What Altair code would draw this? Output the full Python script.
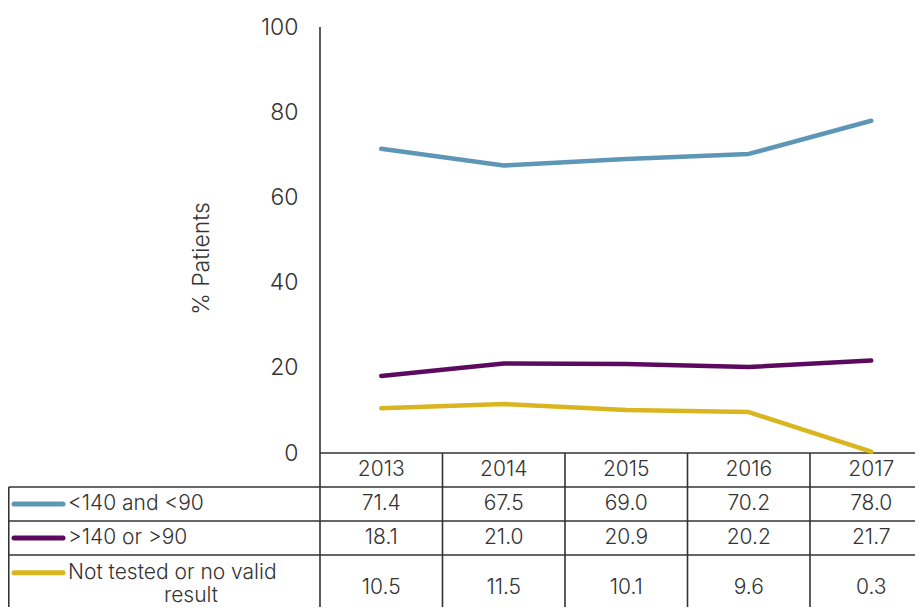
import altair as alt
import pandas as pd

# ---------------- data ----------------
years = [2013, 2014, 2015, 2016, 2017]
series = ["<140 and <90", ">140 or >90", "Not tested or no valid result"]
normal_bp = [71.4, 67.5, 69.0, 70.2, 78.0]
high_bp = [18.1, 21.0, 20.9, 20.2, 21.7]
not_tested = [10.5, 11.5, 10.1, 9.6, 0.3]
colors = ["#5E97B5", "#5C0A5F", "#D9B520"]
y_ticks = [0, 20, 40, 60, 80, 100]
y_title = "% Patients"

# ---------------- layout helpers ----------------
FONT = "Inter"
TXT = "#333333"
BORDER = "#333333"
COL_W = 122.5            # px per year column
AXIS_PX = 320            # page x of first column boundary
SVG_W, SVG_H = 907, 599
PAD_L = AXIS_PX - 8
PLOT_W = SVG_W - PAD_L
ZERO_Y = 445             # svg y of value 0
PX_UNIT = 4.26
ROW_H = 34
TAB_FS = 21


def px_year(px):
    return years[0] - 0.5 + (px - AXIS_PX) / COL_W


X_SCALE = alt.Scale(domain=[years[0] - 0.5, years[0] - 0.5 + PLOT_W / COL_W], nice=False, zero=False)
Y_DATA = alt.Scale(domain=[(ZERO_Y - SVG_H) / PX_UNIT, ZERO_Y / PX_UNIT], nice=False, zero=False)
Y_TAB = alt.Scale(domain=[-ZERO_Y / ROW_H, (SVG_H - ZERO_Y) / ROW_H], nice=False, zero=False, reverse=True)

vals = [normal_bp, high_bp, not_tested]
row_center = [1.5, 2.5, 3.98]
key_row = [1.5, 2.5, 3.52]

recs = []
for s, v, rc in zip(series, vals, row_center):
    for yr, val in zip(years, v):
        recs.append({"year": yr, "series": s, "value": val, "r": rc, "label": f"{val:.1f}"})
df = pd.DataFrame(recs)

hdr = pd.DataFrame({"year": years, "r": [0.5] * len(years), "label": [str(y) for y in years]})

keys = pd.DataFrame({"series": series, "x": [px_year(14)] * 3, "x2": [px_year(63)] * 3, "r": key_row})

lab_left = pd.DataFrame({"t": ["<140 and <90", ">140 or >90", "Not tested or no valid"],
                         "x": [px_year(68)] * 3, "r": key_row})
lab_center = pd.DataFrame({"t": ["result"], "x": [px_year(191)], "r": [4.2]})

right = years[-1] + 0.5
left = px_year(8.75)
bottom_r = (SVG_H - ZERO_Y) / ROW_H
hlines = pd.DataFrame({"x": [years[0] - 0.5, left, left, left],
                       "x2": [right] * 4, "r": [0, 1, 2, 3]})
vbounds = [y - 0.5 for y in years]
vlines = pd.DataFrame({"x": [left] + vbounds,
                       "r": [1] + [0] * len(vbounds),
                       "r2": [bottom_r] * (len(vbounds) + 1)})
axis_line = pd.DataFrame({"x": [years[0] - 0.5], "y": [0], "y2": [100]})

color_scale = alt.Scale(domain=series, range=colors)

# ---------------- layers ----------------
frame_h = alt.Chart(hlines).mark_rule(color=BORDER, strokeWidth=1.6).encode(
    x=alt.X("x:Q", scale=X_SCALE, axis=None), x2="x2:Q",
    y=alt.Y("r:Q", scale=Y_TAB, axis=None))
frame_v = alt.Chart(vlines).mark_rule(color=BORDER, strokeWidth=1.6).encode(
    x=alt.X("x:Q", scale=X_SCALE, axis=None),
    y=alt.Y("r:Q", scale=Y_TAB, axis=None), y2="r2:Q")
axis_rule = alt.Chart(axis_line).mark_rule(color=BORDER, strokeWidth=1.6).encode(
    x=alt.X("x:Q", scale=X_SCALE, axis=None),
    y=alt.Y("y:Q", scale=Y_DATA, axis=None), y2="y2:Q")

lines = alt.Chart(df).mark_line(strokeWidth=4.5, strokeCap="round", strokeJoin="round").encode(
    x=alt.X("year:Q", scale=X_SCALE, axis=None),
    y=alt.Y("value:Q", scale=Y_DATA,
            axis=alt.Axis(values=y_ticks, domain=False, ticks=False, grid=False,
                          labelPadding=22, labelFontSize=23, labelFont=FONT, labelColor=TXT,
                          labelFontWeight=300,
                          title=y_title, titleFont=FONT, titleFontSize=23, titleFontWeight=300,
                          titleColor=TXT, titleX=-107, titleY=250)),
    color=alt.Color("series:N", scale=color_scale, legend=None),
    detail="series:N")

text_kw = dict(font=FONT, fontSize=TAB_FS, fontWeight=300, color=TXT, baseline="middle")

cells = alt.Chart(df).mark_text(align="center", **text_kw).encode(
    x=alt.X("year:Q", scale=X_SCALE, axis=None),
    y=alt.Y("r:Q", scale=Y_TAB, axis=None),
    text="label:N")
header = alt.Chart(hdr).mark_text(align="center", **text_kw).encode(
    x=alt.X("year:Q", scale=X_SCALE, axis=None),
    y=alt.Y("r:Q", scale=Y_TAB, axis=None),
    text="label:N")
key_marks = alt.Chart(keys).mark_rule(strokeWidth=5, strokeCap="round").encode(
    x=alt.X("x:Q", scale=X_SCALE, axis=None), x2="x2:Q",
    y=alt.Y("r:Q", scale=Y_TAB, axis=None),
    color=alt.Color("series:N", scale=color_scale, legend=None))
key_text = alt.Chart(lab_left).mark_text(align="left", **text_kw).encode(
    x=alt.X("x:Q", scale=X_SCALE, axis=None),
    y=alt.Y("r:Q", scale=Y_TAB, axis=None),
    text="t:N")
key_text2 = alt.Chart(lab_center).mark_text(align="center", **text_kw).encode(
    x=alt.X("x:Q", scale=X_SCALE, axis=None),
    y=alt.Y("r:Q", scale=Y_TAB, axis=None),
    text="t:N")

chart = alt.layer(
    frame_h, frame_v, axis_rule, cells, header, key_marks, key_text, key_text2, lines
).resolve_scale(y="independent", color="shared").properties(
    width=PLOT_W, height=SVG_H,
    autosize=alt.AutoSizeParams(type="none"),
    padding={"left": PAD_L, "top": 0, "right": 0, "bottom": 0},
    background="white",
).configure_view(stroke=None)

chart.save("out.html", embed_options={"renderer": "svg", "actions": False})
